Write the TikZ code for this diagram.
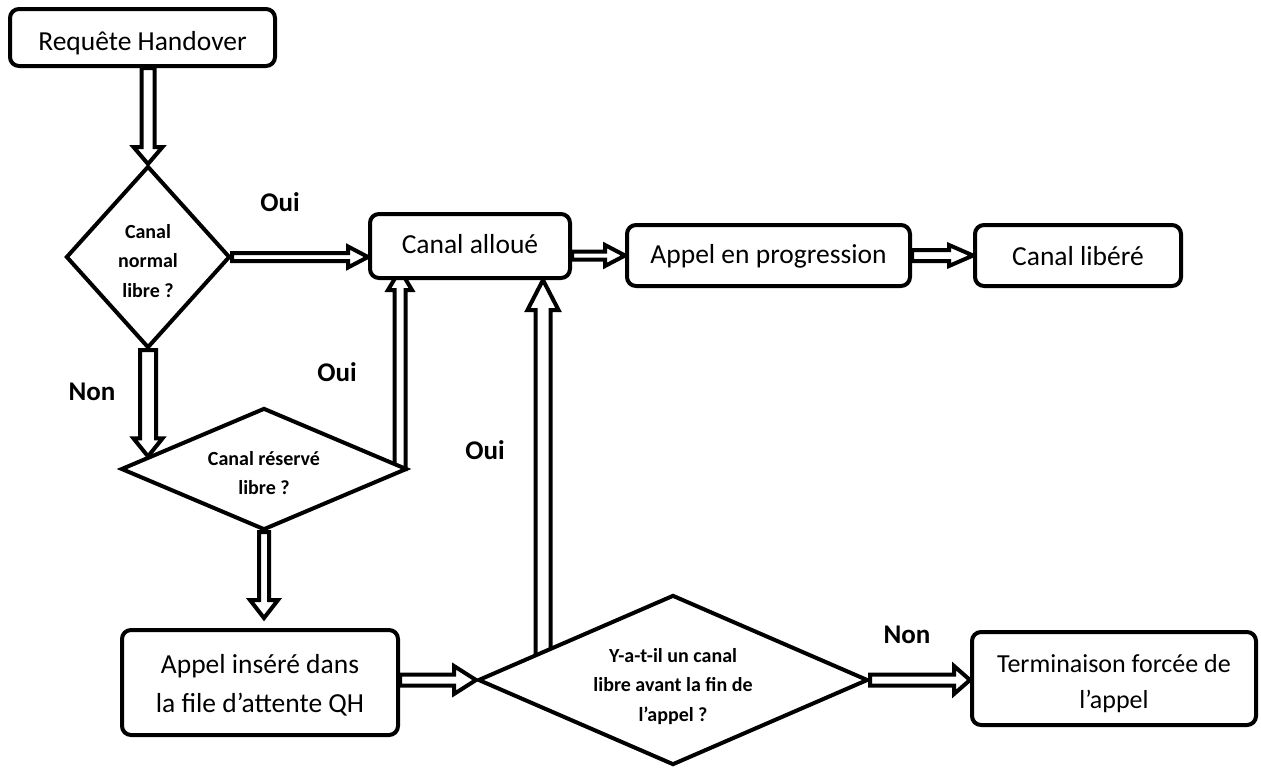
\documentclass[tikz,border=0pt]{standalone}
\usepackage{fontspec}
\setmainfont{Carlito}
\usetikzlibrary{calc,shapes.geometric}
\pgfdeclarelayer{bg}
\pgfsetlayers{bg,main}
\newcommand\ntext[2]{\raisebox{#1pt}[0pt][0pt]{\begin{tabular}[t]{@{}c@{}}#2\end{tabular}}}
\tikzset{
  box/.style={draw, line width=4pt, rounded corners=9pt, fill=white, inner sep=0pt,
    font=\fontsize{27.5}{38}\selectfont},
  dec/.style={draw, diamond, line width=4pt, fill=white, inner sep=0pt,
    font=\fontsize{20}{29.5}\selectfont\bfseries},
  lbl/.style={font=\fontsize{27}{32}\selectfont\bfseries, inner sep=0pt},
  barrow/.style n args={3}{draw, fill=white, line width=4pt, line join=miter, to path={
    ($(\tikztostart)!#1pt!90:(\tikztotarget)$)
    -- ($(\tikztotarget)!#3pt!(\tikztostart) + (\tikztostart)!#1pt!90:(\tikztotarget) - (\tikztostart)$)
    -- ($(\tikztotarget)!#3pt!(\tikztostart) + (\tikztostart)!#2pt!90:(\tikztotarget) - (\tikztostart)$)
    -- (\tikztotarget)
    -- ($(\tikztotarget)!#3pt!(\tikztostart) + (\tikztostart)!#2pt!-90:(\tikztotarget) - (\tikztostart)$)
    -- ($(\tikztotarget)!#3pt!(\tikztostart) + (\tikztostart)!#1pt!-90:(\tikztotarget) - (\tikztostart)$)
    -- ($(\tikztostart)!#1pt!-90:(\tikztotarget)$)
    -- cycle}},
}
\begin{document}
\begin{tikzpicture}[x=1pt,y=-1pt]
\useasboundingbox (0,0) rectangle (1261,769);
\node[box, minimum width=265pt, minimum height=57pt] (req) at (142.5,37.5) {\ntext{-12.5}{Requête Handover}};
\node[dec, minimum width=164pt, minimum height=182pt, aspect=0.9] (d1) at (148,257) {\ntext{19}{Canal\\normal\\libre ?}};
\node[box, minimum width=200pt, minimum height=64pt] (alloue) at (470,246) {\ntext{-7}{Canal alloué}};
\node[box, minimum width=283pt, minimum height=61pt] (prog) at (768.5,255.5) {\ntext{-7.5}{Appel en progression}};
\node[box, minimum width=206pt, minimum height=61pt] (libere) at (1078,255.5) {\ntext{-9.5}{Canal libéré}};
\node[dec, minimum width=286pt, minimum height=122pt, aspect=2.3, font=\fontsize{20}{29}\selectfont\bfseries] (d2) at (264,469) {\ntext{4}{Canal réservé\\libre ?}};
\node[box, minimum width=276pt, minimum height=105pt, font=\fontsize{27.5}{39}\selectfont] (insere) at (260,682.5) {\ntext{9.5}{Appel inséré dans\\la file d’attente QH}};
\node[dec, minimum width=390pt, minimum height=170pt, aspect=2.3] (d3) at (673,680) {\ntext{18}{Y-a-t-il un canal\\libre avant la fin de\\l’appel ?}};
\node[box, minimum width=284pt, minimum height=93pt, font=\fontsize{26}{36.5}\selectfont] (term) at (1114,678.5) {\ntext{6.5}{Terminaison forcée de\\l’appel}};

\node[lbl] (oui1) at (280,202) {Oui};
\node[lbl] (non1) at (92,392) {Non};
\node[lbl] (oui2) at (337,372) {Oui};
\node[lbl] (oui3) at (485,450) {Oui};
\node[lbl] (non2) at (907,635) {Non};

\coordinate (o2s) at (400,469);
\coordinate (o2e) at (400,270);
\coordinate (o3s) at (543,668);
\coordinate (n2) at ($(d2.west)!0.2!(d2.north)$);
\coordinate (qend) at ($(insere.north)+(0,-10)$);

\begin{pgfonlayer}{bg}
\draw[barrow={6.5}{14.5}{17}] (req.south -| d1.north) to (d1.north);
\draw[barrow={4}{10.5}{20}] (d1.east) to (alloue.west |- d1.east);
\draw[barrow={8}{14.5}{18}] (d1.south) to (d1.south |- n2);
\draw[barrow={5.5}{12}{20}] (o2s) to (o2e);
\draw[barrow={7.5}{15.5}{30}] (o3s) to (alloue.south -| o3s);
\draw[barrow={4}{10.5}{20}] (alloue.east |- prog.west) to (prog.west);
\draw[barrow={5.5}{10.5}{24}] (prog.east) to (libere.west);
\draw[barrow={5}{14}{18}] (d2.south) to (d2.south |- qend);
\draw[barrow={5.5}{14}{22}] (insere.east |- d3.west) to (d3.west);
\draw[barrow={5.5}{14}{16}] (d3.east) to (term.west |- d3.east);
\end{pgfonlayer}
\end{tikzpicture}
\end{document}
